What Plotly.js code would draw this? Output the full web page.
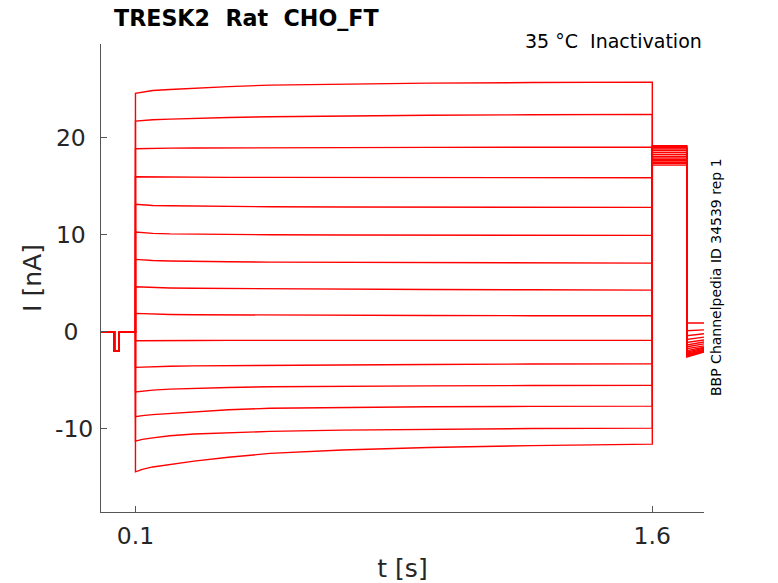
<!DOCTYPE html>
<html>
<head>
<meta charset="utf-8">
<script src="https://cdn.plot.ly/plotly-3.0.1.min.js"></script>
<style>html,body{margin:0;padding:0;background:#fff;}</style>
</head>
<body>
<div id="chart" style="width:778px;height:583px;"></div>
<script>
// Holding period before the prepulse (identical for every sweep)
const tBase = [0, 0.039, 0.039, 0.0515, 0.0515, 0.1];
const iBase = [0, 0, -2.0, -2.0, 0, 0];

// Prepulse sample times (s) and currents (nA) per sweep
const tPre = [0.1, 0.12, 0.15, 0.2, 0.27, 0.37, 0.49, 0.7, 0.95, 1.25, 1.6];
const iPre = [
  [24.6, 24.75, 24.9, 25.0, 25.15, 25.3, 25.46, 25.58, 25.66, 25.72, 25.77],
  [21.74, 21.8, 21.88, 21.95, 22.03, 22.11, 22.19, 22.28, 22.35, 22.4, 22.44],
  [18.89, 18.91, 18.93, 18.95, 18.96, 18.98, 18.99, 19.01, 19.03, 19.05, 19.06],
  [16.0, 15.99, 15.98, 15.97, 15.95, 15.94, 15.93, 15.92, 15.9, 15.9, 15.89],
  [13.15, 13.1, 13.04, 13.0, 12.96, 12.93, 12.9, 12.88, 12.86, 12.85, 12.84],
  [10.29, 10.22, 10.16, 10.1, 10.06, 10.03, 10.01, 9.99, 9.97, 9.96, 9.95],
  [7.47, 7.41, 7.35, 7.3, 7.25, 7.22, 7.19, 7.16, 7.13, 7.11, 7.09],
  [4.64, 4.6, 4.56, 4.52, 4.49, 4.46, 4.44, 4.4, 4.36, 4.33, 4.30],
  [1.90, 1.87, 1.83, 1.79, 1.76, 1.74, 1.72, 1.70, 1.68, 1.66, 1.65],
  [-0.93, -0.92, -0.91, -0.9, -0.9, -0.89, -0.89, -0.89, -0.89, -0.89, -0.89],
  [-3.67, -3.64, -3.6, -3.56, -3.52, -3.49, -3.47, -3.42, -3.37, -3.33, -3.30],
  [-6.22, -6.12, -6.02, -5.92, -5.83, -5.75, -5.68, -5.62, -5.58, -5.55, -5.53],
  [-8.77, -8.65, -8.55, -8.42, -8.25, -8.05, -7.9, -7.8, -7.74, -7.7, -7.67],
  [-11.28, -11.1, -10.95, -10.73, -10.55, -10.4, -10.28, -10.15, -10.05, -9.99, -9.94],
  [-14.45, -14.2, -13.95, -13.68, -13.35, -12.95, -12.55, -12.2, -11.95, -11.75, -11.59]
];

// Test pulse (1.6 - 1.70 s) and tail (1.70 - 1.75 s) currents per sweep
const tTest = [1.6, 1.70];
const iTest = [17.2, 17.35, 17.5, 17.65, 17.8, 17.95, 18.1, 18.3, 18.5, 18.7, 18.85, 18.95, 19.05, 19.12, 19.2];
const tTail = [1.70, 1.75];
const iTailStart = [0.9, 0.1, -0.4, -0.8, -1.1, -1.35, -1.55, -1.75, -1.95, -2.1, -2.2, -2.3, -2.4, -2.5, -2.62];
const iTailEnd = [0.9, 0.2, -0.2, -0.55, -0.85, -1.05, -1.25, -1.45, -1.6, -1.7, -1.8, -1.9, -1.97, -2.03, -2.08];

// Tick positions and labels
const xTickVals = [0.1, 1.6];
const xTickText = ['0.1', '1.6'];
const yTickVals = [-10, 0, 10, 20];
const yTickText = ['\u201010', '0\u00a0\u00a0', '10\u00a0', '20\u00a0'];

const traces = iPre.map((pre, k) => ({
  type: 'scatter',
  mode: 'lines',
  x: [...tBase, ...tPre, tTest[0], tTest[1], tTail[0], tTail[1]],
  y: [...iBase, ...pre, iTest[k], iTest[k], iTailStart[k], iTailEnd[k]],
  line: {color: '#ff0000', width: 1.4},
  showlegend: false,
  hoverinfo: 'skip'
}));

const fontFam = '"DejaVu Sans", "Liberation Sans", sans-serif';
const layout = {
  width: 778, height: 583,
  margin: {l: 101, r: 74, t: 44, b: 71},
  paper_bgcolor: '#ffffff', plot_bgcolor: '#ffffff',
  font: {family: fontFam, color: '#262626'},
  title: {
    text: '<b>TRESK2\u00a0\u00a0Rat\u00a0\u00a0CHO_FT</b>',
    font: {family: fontFam, size: 22.2, color: '#000000'},
    x: 114/778, xanchor: 'left', xref: 'container',
    y: 1 - 18/583, yanchor: 'middle', yref: 'container'
  },
  xaxis: {
    range: [0, 1.75],
    tickvals: xTickVals, ticktext: xTickText,
    ticks: 'inside', ticklen: 6, tickcolor: '#555555',
    showline: true, linecolor: '#555555', linewidth: 1,
    showgrid: false, zeroline: false,
    tickfont: {family: fontFam, size: 23.5, color: '#262626'},
    ticklabelstandoff: 3,
    title: {text: 't [s]', font: {family: fontFam, size: 25, color: '#262626'}, standoff: 10}
  },
  yaxis: {
    range: [-18.6, 29.7],
    tickvals: yTickVals, ticktext: yTickText,
    ticks: 'inside', ticklen: 6, tickcolor: '#555555',
    showline: true, linecolor: '#555555', linewidth: 1,
    showgrid: false, zeroline: false,
    tickfont: {family: fontFam, size: 23.5, color: '#262626'},
    ticklabelstandoff: 2,
    title: {text: 'I [nA]', font: {family: fontFam, size: 25, color: '#262626'}, standoff: 6}
  },
  annotations: [
    {text: '35 °C\u00a0\u00a0Inactivation', xref: 'paper', yref: 'paper',
     x: 1, y: (512-41)/468, xanchor: 'right', yanchor: 'middle', showarrow: false,
     font: {family: fontFam, size: 19, color: '#000000'}},
    {text: 'BBP Channelpedia ID 34539 rep 1', xref: 'paper', yref: 'paper',
     x: (716-101)/603, y: (512-277)/468, xanchor: 'center', yanchor: 'middle',
     textangle: -90, showarrow: false,
     font: {family: fontFam, size: 14, color: '#000000'}}
  ]
};

Plotly.newPlot('chart', traces, layout, {staticPlot: true, displayModeBar: false});
</script>
</body>
</html>
